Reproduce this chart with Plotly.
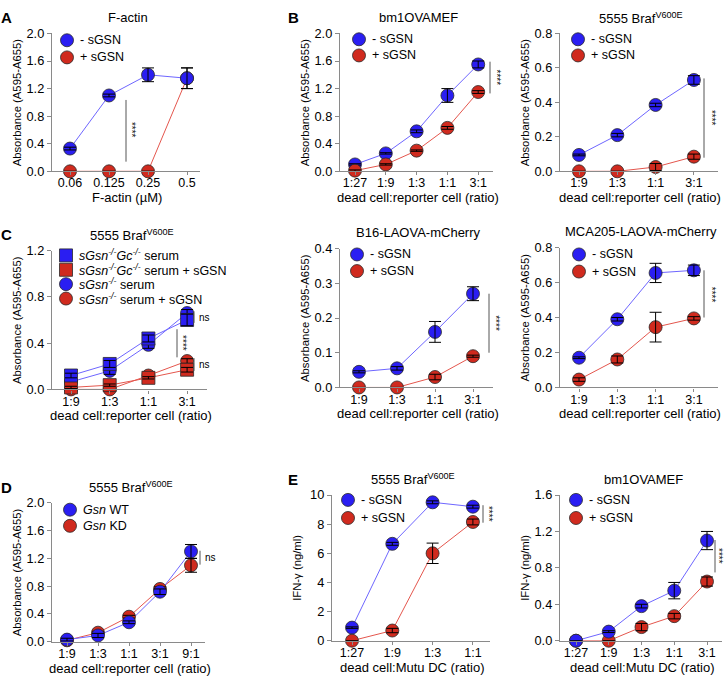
import plotly.graph_objects as go

W, H = 725, 680
FONT = "Liberation Sans, Arial, Helvetica, sans-serif"
BLUE = "#2a1ef2"
RED = "#d02a1e"
BLUE_LINE = "#6e66ff"
RED_LINE = "#e4564d"
AXIS_COLOR = "#8a8a8a"
EDGE = "#2a2a2a"

# ---------------- data ----------------
# A  F-actin
fa_conc = ["0.06", "0.125", "0.25", "0.5"]
fa_minus = [0.33, 1.10, 1.40, 1.35]
fa_minus_err = [0.02, 0.02, 0.10, 0.15]
fa_plus = [0.0, 0.0, 0.0, 1.35]
fa_plus_err = [0.0, 0.0, 0.0, 0.15]

# B  bm1OVAMEF
bm_ratio = ["1:27", "1:9", "1:3", "1:1", "3:1"]
bm_minus = [0.10, 0.26, 0.58, 1.10, 1.55]
bm_minus_err = [0.01, 0.01, 0.02, 0.10, 0.05]
bm_plus = [0.01, 0.10, 0.30, 0.63, 1.15]
bm_plus_err = [0.01, 0.01, 0.01, 0.02, 0.02]

# B  5555 Braf V600E
br_ratio = ["1:9", "1:3", "1:1", "3:1"]
br_minus = [0.095, 0.21, 0.385, 0.53]
br_minus_err = [0.005, 0.01, 0.01, 0.025]
br_plus = [0.0, 0.0, 0.025, 0.085]
br_plus_err = [0.0, 0.0, 0.02, 0.015]

# C  5555 Braf V600E, serum
cs_ratio = ["1:9", "1:3", "1:1", "3:1"]
cs_gcko = [0.12, 0.22, 0.44, 0.60]
cs_gcko_err = [0.02, 0.03, 0.03, 0.05]
cs_gcko_sgsn = [0.017, 0.037, 0.10, 0.17]
cs_gcko_sgsn_err = [0.01, 0.01, 0.01, 0.02]
cs_ko = [0.065, 0.16, 0.385, 0.66]
cs_ko_err = [0.02, 0.03, 0.03, 0.03]
cs_ko_sgsn = [0.0, 0.0, 0.12, 0.245]
cs_ko_sgsn_err = [0.005, 0.005, 0.01, 0.02]

# C  B16-LAOVA-mCherry
b16_ratio = ["1:9", "1:3", "1:1", "3:1"]
b16_minus = [0.045, 0.055, 0.16, 0.27]
b16_minus_err = [0.003, 0.005, 0.03, 0.02]
b16_plus = [0.0, 0.0, 0.03, 0.09]
b16_plus_err = [0.0, 0.0, 0.008, 0.003]

# C  MCA205-LAOVA-mCherry
mca_ratio = ["1:9", "1:3", "1:1", "3:1"]
mca_minus = [0.17, 0.39, 0.655, 0.67]
mca_minus_err = [0.005, 0.01, 0.055, 0.03]
mca_plus = [0.045, 0.16, 0.345, 0.395]
mca_plus_err = [0.01, 0.02, 0.085, 0.01]

# D  5555 Braf V600E, Gsn WT vs KD
gd_ratio = ["1:9", "1:3", "1:1", "3:1", "9:1"]
gd_wt = [0.03, 0.09, 0.28, 0.72, 1.30]
gd_wt_err = [0.02, 0.03, 0.02, 0.04, 0.10]
gd_kd = [0.02, 0.13, 0.36, 0.76, 1.10]
gd_kd_err = [0.01, 0.02, 0.02, 0.03, 0.10]

# E  IFN-gamma, 5555 Braf V600E
ie_ratio = ["1:27", "1:9", "1:3", "1:1"]
ie_minus = [0.9, 6.65, 9.5, 9.2]
ie_minus_err = [0.05, 0.1, 0.1, 0.1]
ie_plus = [0.0, 0.7, 6.0, 8.15]
ie_plus_err = [0.0, 0.15, 0.7, 0.2]

# E  IFN-gamma, bm1OVAMEF
ib_ratio = ["1:27", "1:9", "1:3", "1:1", "3:1"]
ib_minus = [0.0, 0.10, 0.38, 0.55, 1.10]
ib_minus_err = [0.0, 0.01, 0.02, 0.09, 0.10]
ib_plus = [0.0, 0.0, 0.15, 0.27, 0.65]
ib_plus_err = [0.0, 0.0, 0.04, 0.03, 0.05]

ABS_TITLE = "Absorbance (A595-A655)"
IFN_TITLE = "IFN-\u03b3 (ng/ml)"
RATIO_TITLE = "dead cell:reporter cell (ratio)"
DC_TITLE = "dead cell:Mutu DC (ratio)"
BRAF = "5555 Braf<sup>V600E</sup>"


def S(name, y, err, color, line, symbol="circle"):
    return dict(name=name, y=y, err=err, color=color, line=line, symbol=symbol)


panels = [
    dict(letter="A", title="F-actin", x=fa_conc, xtitle="F-actin (\u00b5M)", ytitle=ABS_TITLE,
         box=(52, 200, 26, 167), p0=70, step=39, yr=2.0, dt=0.4, yfmt=".1f",
         leg=(67, 33, 17.5),
         series=[S("- sGSN", fa_minus, fa_minus_err, BLUE, BLUE_LINE),
                 S("+ sGSN", fa_plus, fa_plus_err, RED, RED_LINE)],
         order=[1, 0],
         sig=[("bar", 126, 1.035, 0.14), ("star", 131, 0.6)]),
    dict(letter="B", title="bm1OVAMEF", x=bm_ratio, xtitle=RATIO_TITLE, ytitle=ABS_TITLE,
         box=(340, 493, 26, 167), p0=355, step=30.8, yr=2.0, dt=0.4, yfmt=".1f",
         leg=(359, 32, 16.5),
         series=[S("- sGSN", bm_minus, bm_minus_err, BLUE, BLUE_LINE),
                 S("+ sGSN", bm_plus, bm_plus_err, RED, RED_LINE)],
         order=[0, 1],
         sig=[("bar", 490, 1.59, 1.13), ("star", 496, 1.36)]),
    dict(letter=None, title=BRAF, x=br_ratio, xtitle=RATIO_TITLE, ytitle=ABS_TITLE,
         box=(560, 718, 26, 167), p0=579, step=38.3, yr=0.8, dt=0.2, yfmt=".1f",
         leg=(578, 32, 16.5),
         series=[S("- sGSN", br_minus, br_minus_err, BLUE, BLUE_LINE),
                 S("+ sGSN", br_plus, br_plus_err, RED, RED_LINE)],
         order=[0, 1],
         sig=[("bar", 704, 0.539, 0.079), ("star", 711, 0.31)]),
    dict(letter="C", title=BRAF, x=cs_ratio, xtitle=RATIO_TITLE, ytitle=ABS_TITLE,
         box=(52, 207, 248, 390), p0=71, step=38.7, yr=1.2, dt=0.4, yfmt=".1f",
         leg=(66, 253, 14.7),
         series=[S("<i>sGsn<sup>-/-</sup>Gc<sup>-/-</sup></i> serum", cs_gcko, cs_gcko_err, BLUE, BLUE_LINE, "square"),
                 S("<i>sGsn<sup>-/-</sup>Gc<sup>-/-</sup></i> serum + sGSN", cs_gcko_sgsn, cs_gcko_sgsn_err, RED, RED_LINE, "square"),
                 S("<i>sGsn<sup>-/-</sup></i> serum", cs_ko, cs_ko_err, BLUE, BLUE_LINE),
                 S("<i>sGsn<sup>-/-</sup></i> serum + sGSN", cs_ko_sgsn, cs_ko_sgsn_err, RED, RED_LINE)],
         order=[3, 2, 1, 0],
         sig=[("bar", 194, 0.675, 0.575), ("ns", 204, 0.625),
              ("bar", 177, 0.52, 0.277), ("star", 183, 0.40),
              ("bar", 194, 0.27, 0.16), ("ns", 204, 0.215)]),
    dict(letter=None, title="B16-LAOVA-mCherry", x=b16_ratio, xtitle=RATIO_TITLE, ytitle=ABS_TITLE,
         box=(340, 493, 246, 388), p0=359, step=38, yr=0.4, dt=0.1, yfmt=".1f",
         leg=(357, 252, 17),
         series=[S("- sGSN", b16_minus, b16_minus_err, BLUE, BLUE_LINE),
                 S("+ sGSN", b16_plus, b16_plus_err, RED, RED_LINE)],
         order=[0, 1],
         sig=[("bar", 489, 0.27, 0.10), ("star", 496, 0.185)]),
    dict(letter=None, title="MCA205-LAOVA-mCherry", x=mca_ratio, xtitle=RATIO_TITLE, ytitle=ABS_TITLE,
         box=(560, 718, 245, 388), p0=579, step=38.3, yr=0.8, dt=0.2, yfmt=".1f",
         leg=(579, 252, 17.5),
         series=[S("- sGSN", mca_minus, mca_minus_err, BLUE, BLUE_LINE),
                 S("+ sGSN", mca_plus, mca_plus_err, RED, RED_LINE)],
         order=[0, 1],
         sig=[("bar", 704, 0.67, 0.40), ("star", 711, 0.53)]),
    dict(letter="D", title=BRAF, x=gd_ratio, xtitle=RATIO_TITLE, ytitle=ABS_TITLE,
         box=(52, 205, 506, 648), p0=67, step=31, yr=2.0, dt=0.4, yfmt=".1f",
         leg=(70, 513, 16.5),
         series=[S("<i>Gsn</i> WT", gd_wt, gd_wt_err, BLUE, BLUE_LINE),
                 S("<i>Gsn</i> KD", gd_kd, gd_kd_err, RED, RED_LINE)],
         order=[1, 0],
         sig=[("bar", 200, 1.31, 1.11), ("ns", 210, 1.21)]),
    dict(letter="E", title=BRAF, x=ie_ratio, xtitle=DC_TITLE, ytitle=IFN_TITLE,
         box=(332, 490, 498, 647), p0=352, step=40.3, yr=10, dt=2, yfmt="d",
         leg=(348, 503, 18.5),
         series=[S("- sGSN", ie_minus, ie_minus_err, BLUE, BLUE_LINE),
                 S("+ sGSN", ie_plus, ie_plus_err, RED, RED_LINE)],
         order=[0, 1],
         sig=[("bar", 483, 9.3, 8.1), ("star", 488, 8.7)]),
    dict(letter=None, title="bm1OVAMEF", x=ib_ratio, xtitle=DC_TITLE, ytitle=IFN_TITLE,
         box=(560, 722, 498, 647), p0=576, step=32.75, yr=1.6, dt=0.4, yfmt=".1f",
         leg=(576, 503, 18.5),
         series=[S("- sGSN", ib_minus, ib_minus_err, BLUE, BLUE_LINE),
                 S("+ sGSN", ib_plus, ib_plus_err, RED, RED_LINE)],
         order=[1, 0],
         sig=[("bar", 715, 1.106, 0.75), ("star", 719, 0.93)]),
]

fig = go.Figure()
layout = dict(
    width=W, height=H, margin=dict(l=0, r=0, t=0, b=0),
    paper_bgcolor="white", plot_bgcolor="white",
    font=dict(family=FONT, size=12.5, color="black"),
    showlegend=False, hovermode=False,
)
annotations = []
shapes = []


def px2fx(px):
    return px / W


def px2fy(py):
    return 1 - py / H


for i, p in enumerate(panels):
    n = i + 1
    xa = "x" if n == 1 else f"x{n}"
    ya = "y" if n == 1 else f"y{n}"
    xkey = "xaxis" if n == 1 else f"xaxis{n}"
    ykey = "yaxis" if n == 1 else f"yaxis{n}"
    x0, x1, y0, y1 = p["box"]
    r0 = (x0 - p["p0"]) / p["step"]
    r1 = (x1 - p["p0"]) / p["step"]

    layout[xkey] = dict(
        domain=[px2fx(x0), px2fx(x1)], anchor=ya, type="category",
        categoryorder="array", categoryarray=p["x"],
        range=[r0, r1], showline=True, linecolor=AXIS_COLOR, linewidth=1.3,
        ticks="outside", ticklen=3, tickwidth=1, tickcolor=AXIS_COLOR,
        ticklabelstandoff=-3,
        showgrid=False, zeroline=False, tickfont=dict(size=12.5, family=FONT),
        fixedrange=True,
    )
    layout[ykey] = dict(
        domain=[px2fy(y1), px2fy(y0)], anchor=xa, range=[0, p["yr"]],
        tickmode="linear", tick0=0, dtick=p["dt"], tickformat=p["yfmt"],
        showline=True, linecolor=AXIS_COLOR, linewidth=1.3,
        ticks="outside", ticklen=4, tickwidth=1, tickcolor=AXIS_COLOR,
        showgrid=False, zeroline=False, tickfont=dict(size=12.8, family=FONT),
        fixedrange=True,
    )

    # lines first
    for k in p["order"]:
        s = p["series"][k]
        fig.add_trace(go.Scatter(
            x=p["x"], y=s["y"], mode="lines", xaxis=xa, yaxis=ya, name=s["name"],
            line=dict(color=s["line"], width=1), hoverinfo="skip", cliponaxis=False,
        ))
    # markers, then error bars above markers
    for k in p["order"]:
        s = p["series"][k]
        fig.add_trace(go.Scatter(
            x=p["x"], y=s["y"], mode="markers", xaxis=xa, yaxis=ya, name=s["name"],
            marker=dict(color=s["color"], size=13, symbol=s["symbol"],
                        line=dict(color=EDGE, width=0.8)),
            hoverinfo="skip", cliponaxis=False,
        ))
        fig.add_trace(go.Scatter(
            x=p["x"], y=s["y"], mode="markers", xaxis=xa, yaxis=ya, name=s["name"],
            marker=dict(color="rgba(0,0,0,0)", size=1),
            error_y=dict(type="data", array=s["err"], visible=True, color="black",
                         thickness=1, width=6),
            hoverinfo="skip", cliponaxis=False,
        ))

    # legend (key symbols + labels)
    lx, ly, lstep = p["leg"]
    for k, s in enumerate(p["series"]):
        cy = ly + k * lstep
        shapes.append(dict(
            type="circle" if s["symbol"] == "circle" else "rect",
            xref="paper", yref="paper", xsizemode="pixel", ysizemode="pixel",
            xanchor=px2fx(lx), yanchor=px2fy(cy), x0=-6.5, x1=6.5, y0=-6.5, y1=6.5,
            fillcolor=s["color"], line=dict(color=EDGE, width=0.8),
        ))
        annotations.append(dict(
            text=s["name"], x=px2fx(lx + 11), y=px2fy(cy), xref="paper", yref="paper",
            showarrow=False, xanchor="left", yanchor="middle",
            font=dict(size=12.5, family=FONT),
        ))

    # panel title
    annotations.append(dict(
        text=p["title"], x=px2fx((x0 + x1) / 2 + 2), y=px2fy(y0 - 16), xref="paper", yref="paper",
        showarrow=False, xanchor="center", yanchor="middle", font=dict(size=13, family=FONT),
    ))
    # panel letter
    if p["letter"]:
        lxp = 6 if x0 < 200 else 293
        annotations.append(dict(
            text=f"<b>{p['letter']}</b>", x=px2fx(lxp), y=px2fy(y0 - 16), xref="paper", yref="paper",
            showarrow=False, xanchor="center", yanchor="middle", font=dict(size=15, family=FONT),
        ))
    # axis titles
    annotations.append(dict(
        text=p["xtitle"], x=px2fx((x0 + x1) / 2 + 1), y=px2fy(y1 + 27), xref="paper", yref="paper",
        showarrow=False, xanchor="center", yanchor="middle", font=dict(size=13, family=FONT),
    ))
    annotations.append(dict(
        text=p["ytitle"], x=px2fx(x0 - 35), y=px2fy((y0 + y1) / 2), xref="paper", yref="paper",
        showarrow=False, xanchor="center", yanchor="middle", textangle=-90,
        font=dict(size=11.3, family=FONT),
    ))
    # significance marks
    for item in p["sig"]:
        if item[0] == "bar":
            _, bx, v0, v1 = item
            shapes.append(dict(type="line", xref="paper", yref=ya, x0=px2fx(bx), x1=px2fx(bx),
                               y0=v0, y1=v1, line=dict(color="#555555", width=1)))
        elif item[0] == "star":
            _, sx, v = item
            annotations.append(dict(text="****", xref="paper", yref=ya, x=px2fx(sx), y=v,
                                    showarrow=False, textangle=90, xanchor="center",
                                    yanchor="middle", font=dict(size=10, family=FONT, color="#111111")))
        else:
            _, sx, v = item
            annotations.append(dict(text="ns", xref="paper", yref=ya, x=px2fx(sx), y=v,
                                    showarrow=False, xanchor="center", yanchor="middle",
                                    font=dict(size=10, family=FONT)))

layout["annotations"] = annotations
layout["shapes"] = shapes
fig.update_layout(**layout)
fig.write_html(
    "out.html",
    config={"displayModeBar": False},
    post_script="document.body.style.margin='0';document.body.style.padding='0';",
)
